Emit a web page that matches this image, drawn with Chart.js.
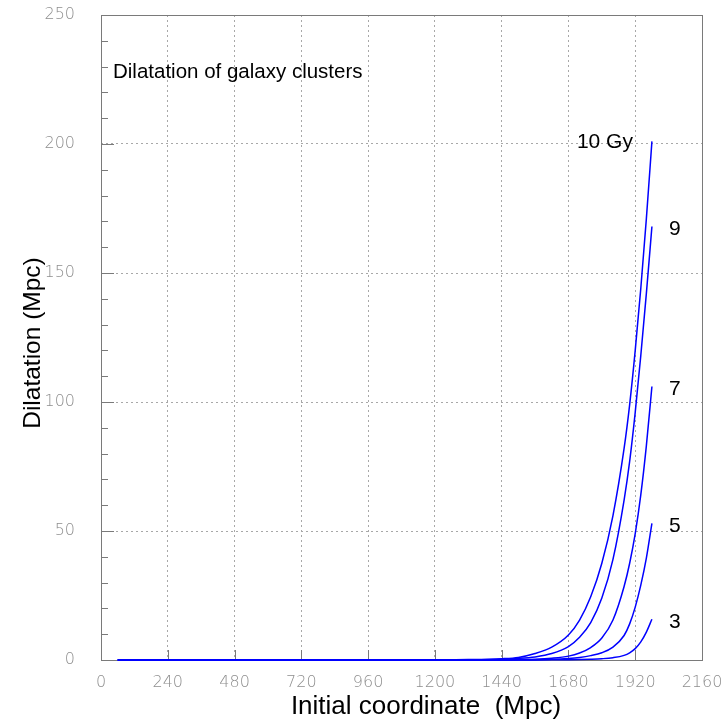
<!DOCTYPE html>
<html>
<head>
<meta charset="utf-8">
<script src="https://cdn.jsdelivr.net/npm/chart.js@4/dist/chart.umd.min.js"></script>
<style>
  html, body { margin: 0; padding: 0; background: #ffffff; }
  #wrap { width: 722px; height: 724px; }
</style>
</head>
<body>
<div id="wrap"><canvas id="chart" width="722" height="724"></canvas></div>
<script>
// Initial comoving coordinate of the cluster (Mpc)
const coords = [60, 300, 600, 900, 1200, 1320, 1440, 1500, 1560, 1620, 1680, 1720, 1760, 1800, 1840, 1880, 1900, 1920, 1940, 1960, 1980];

// Dilatation (Mpc) after the given elapsed time
const dil10 = [0, 0, 0, 0.01, 0.05, 0.15, 0.5, 1.0, 2.5, 5.0, 9.7, 15.5, 24.5, 37.5, 56, 82, 99, 120, 144, 171, 201];
const dil9  = [0, 0, 0, 0, 0.02, 0.08, 0.3, 0.6, 1.2, 2.5, 5.2, 8.8, 14.5, 24, 39, 62, 77, 96, 118, 142, 168];
const dil7  = [0, 0, 0, 0, 0, 0.02, 0.08, 0.15, 0.3, 0.7, 1.5, 2.7, 4.8, 8.5, 15.5, 28.5, 37.5, 49, 64, 83, 106];
const dil5  = [0, 0, 0, 0, 0, 0, 0.02, 0.05, 0.1, 0.25, 0.6, 1.0, 1.7, 2.8, 5.0, 9.5, 14, 20.5, 29, 39.5, 53];
const dil3  = [0, 0, 0, 0, 0, 0, 0, 0, 0.02, 0.05, 0.1, 0.18, 0.3, 0.5, 0.9, 1.8, 2.8, 4.4, 7.0, 10.8, 15.8];

const curveLabels = ['10 Gy', '9', '7', '5', '3'];
const xTicks = [0, 240, 480, 720, 960, 1200, 1440, 1680, 1920, 2160];
const yTicks = [0, 50, 100, 150, 200, 250];
const yMinorStep = 10;
const xTitle = 'Initial coordinate  (Mpc)';
const yTitle = 'Dilatation (Mpc)';
const plotTitle = 'Dilatation of galaxy clusters';

const series = [dil10, dil9, dil7, dil5, dil3];

const TEXT_FONT = '"Liberation Sans", Arial, Helvetica, sans-serif';
const TICK_FONT = '"DejaVu Sans", sans-serif';

// Frame around the plot plus inward tick marks (drawn under the curves)
const framePlugin = {
  id: 'frame',
  beforeDatasetsDraw(chart) {
    const { ctx, chartArea: a, scales: { x, y } } = chart;
    ctx.save();
    ctx.strokeStyle = '#7a7a7a';
    ctx.lineWidth = 1;
    ctx.strokeRect(Math.round(a.left) + 0.5, Math.round(a.top) + 0.5,
                   Math.round(a.right - a.left), Math.round(a.bottom - a.top));
    ctx.beginPath();
    xTicks.forEach(v => {
      const px = Math.round(x.getPixelForValue(v)) + 0.5;
      ctx.moveTo(px, a.bottom);
      ctx.lineTo(px, a.bottom - 10);
    });
    const yMax = yTicks[yTicks.length - 1];
    for (let v = 0; v <= yMax; v += yMinorStep) {
      const py = Math.round(y.getPixelForValue(v)) + 0.5;
      const len = yTicks.includes(v) ? 13 : 7;
      ctx.moveTo(a.left, py);
      ctx.lineTo(a.left + len, py);
    }
    ctx.stroke();
    ctx.restore();
  }
};

// Axis titles, the plot title and the time labels at the end of each curve
const labelPlugin = {
  id: 'curveLabels',
  afterDatasetsDraw(chart) {
    const { ctx, chartArea: a } = chart;
    ctx.save();
    ctx.fillStyle = '#000';
    ctx.textBaseline = 'middle';

    ctx.font = '26px ' + TEXT_FONT;
    ctx.textAlign = 'center';
    ctx.fillText(xTitle, a.left + 325, a.bottom + 47);

    ctx.save();
    ctx.font = '24.5px ' + TEXT_FONT;
    ctx.translate(a.left - 68, a.top + 328);
    ctx.rotate(-Math.PI / 2);
    ctx.fillText(yTitle, 0, 0);
    ctx.restore();

    ctx.font = '20.5px ' + TEXT_FONT;
    ctx.textAlign = 'left';
    ctx.fillText(plotTitle, a.left + 12, a.top + 57);

    ctx.font = '21px ' + TEXT_FONT;
    chart.data.datasets.forEach((ds, i) => {
      const pts = chart.getDatasetMeta(i).data;
      const end = pts[pts.length - 1];
      if (i === 0) {
        ctx.textAlign = 'right';
        ctx.fillText(curveLabels[i], end.x - 19, end.y + 1);
      } else {
        ctx.textAlign = 'left';
        ctx.fillText(curveLabels[i], end.x + 17, end.y + 3);
      }
    });
    ctx.restore();
  }
};

new Chart(document.getElementById('chart'), {
  type: 'line',
  data: {
    datasets: series.map((vals, i) => ({
      label: curveLabels[i],
      data: coords.map((c, k) => ({ x: c, y: vals[k] })),
      borderColor: '#0000ff',
      borderWidth: 1.5,
      pointRadius: 0,
      fill: false,
      cubicInterpolationMode: 'monotone',
      clip: 4
    }))
  },
  options: {
    responsive: false,
    animation: false,
    layout: { padding: { left: 0, right: 20, top: 15, bottom: 0 } },
    plugins: { legend: { display: false }, tooltip: { enabled: false } },
    scales: {
      x: {
        type: 'linear',
        min: 0,
        max: 2160,
        afterBuildTicks: s => { s.ticks = xTicks.map(v => ({ value: v })); },
        afterFit: s => { s.height = 64; s.paddingLeft = 0; s.paddingRight = 0; },
        grid: { color: '#a8a8a8', lineWidth: 1, drawTicks: false },
        border: { display: false, dash: [2, 3] },
        ticks: {
          padding: 13,
          color: '#8e8e8e',
          font: { family: TICK_FONT, size: 16, weight: 200 },
          maxRotation: 0,
          autoSkip: false,
          callback: v => String(v)
        },
        title: { display: false }
      },
      y: {
        type: 'linear',
        min: 0,
        max: 250,
        afterBuildTicks: s => { s.ticks = yTicks.map(v => ({ value: v })); },
        afterFit: s => { s.width = 101; s.paddingTop = 0; s.paddingBottom = 0; },
        grid: { color: '#a8a8a8', lineWidth: 1, drawTicks: false },
        border: { display: false, dash: [2, 3] },
        ticks: {
          padding: 26,
          color: '#8e8e8e',
          font: { family: TICK_FONT, size: 16, weight: 200 },
          callback: v => String(v)
        },
        title: { display: false }
      }
    }
  },
  plugins: [framePlugin, labelPlugin]
});
</script>
</body>
</html>
